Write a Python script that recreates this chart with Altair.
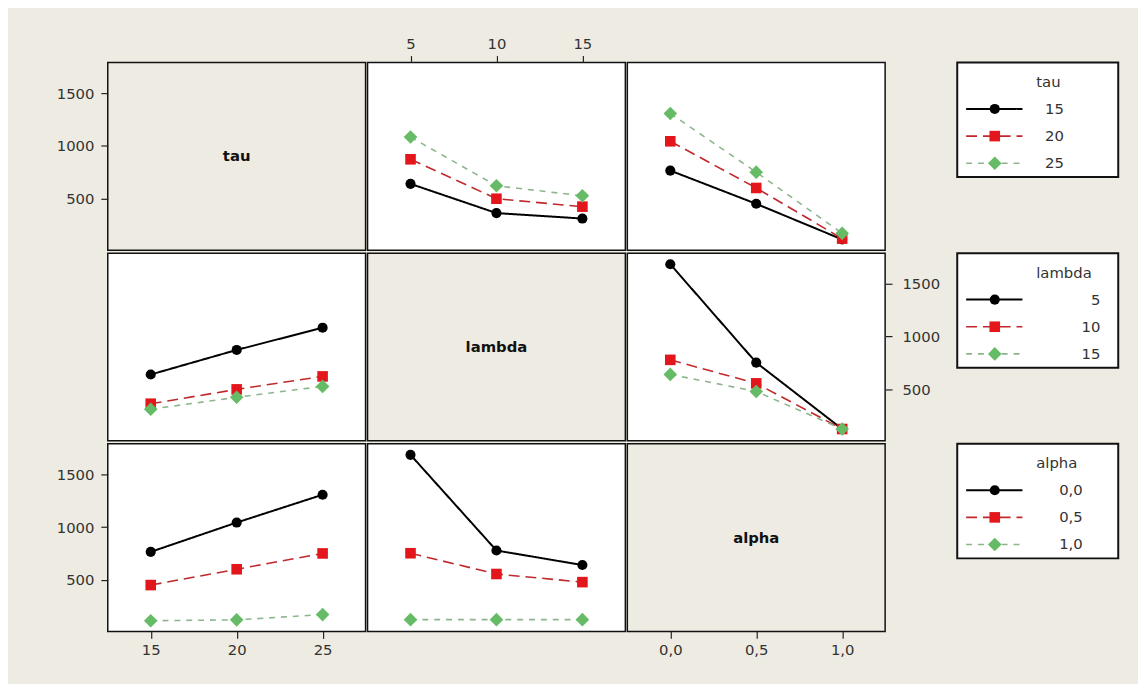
import altair as alt
import pandas as pd

# ---- data ----
factor_names = ["tau", "lambda", "alpha"]
tau_levels = [15, 20, 25]
lambda_levels = [5, 10, 15]
alpha_levels = [0.0, 0.5, 1.0]
tau_labels = ["15", "20", "25"]
lambda_labels = ["5", "10", "15"]
alpha_labels = ["0,0", "0,5", "1,0"]

# mean response; rows = first factor levels, columns = second factor levels
tau_lambda = [[639, 362, 310], [872, 498, 423], [1083, 621, 526]]
tau_alpha = [[765, 450, 112], [1043, 600, 120], [1307, 750, 170]]
lambda_alpha = [[1685, 752, 122], [778, 555, 122], [640, 478, 122]]

y_ticks = [500, 1000, 1500]
y_domain = [10, 1790]

# ---- styling ----
BG = "#EEEBE2"
FONT = "DejaVu Sans"
W, H = 261, 190
TICK_FS = 15
LINE_COLORS = ["#000000", "#C0282C", "#8DB58D"]
FILL_COLORS = ["#000000", "#E3161B", "#66BB66"]
SHAPES = ["circle", "square", "diamond"]
SIZES = [105, 115, 190]
LEG_SIZES = [115, 125, 200]
DASHES = [[1, 0], [11, 6], [6, 6]]
LINE_WIDTHS = [2, 1.6, 1.6]

levels = {"tau": tau_levels, "lambda": lambda_levels, "alpha": alpha_levels}
labels = {"tau": tau_labels, "lambda": lambda_labels, "alpha": alpha_labels}
tables = {("tau", "lambda"): tau_lambda, ("tau", "alpha"): tau_alpha,
          ("lambda", "alpha"): lambda_alpha}
k_dom = ["0", "1", "2"]


def mean(a, ia, b, ib):
    if (a, b) in tables:
        return tables[(a, b)][ia][ib]
    return tables[(b, a)][ib][ia]


def xdomain(f):
    lv = levels[f]
    span = lv[-1] - lv[0]
    return [lv[0] - 0.25 * span, lv[-1] + 0.25 * span]


def x_axis(f, orient):
    lv = levels[f]
    expr = " : ".join(
        [f"datum.value == {v} ? '{l}'" for v, l in zip(lv, labels[f])]) + " : ''"
    return alt.Axis(orient=orient, values=lv, labelExpr=expr, title=None,
                    grid=False, domain=False, tickSize=7, tickColor="#222",
                    tickWidth=1.2, labelPadding=4, labelFont=FONT,
                    labelFontSize=TICK_FS, labelColor="#333")


def y_axis(orient):
    return alt.Axis(orient=orient, values=y_ticks, format="d", title=None, grid=False,
                    domain=False, tickSize=7, tickColor="#222", tickWidth=1.2,
                    labelPadding=7 if orient == "left" else 10, labelFont=FONT,
                    labelFontSize=TICK_FS, labelColor="#333")


def series_enc(sizes):
    return dict(
        fill=alt.Fill("k:N", scale=alt.Scale(domain=k_dom, range=FILL_COLORS), legend=None),
        shape=alt.Shape("k:N", scale=alt.Scale(domain=k_dom, range=SHAPES), legend=None),
        size=alt.Size("k:N", scale=alt.Scale(type="ordinal", domain=k_dom, range=sizes),
                      legend=None),
    )


def line_enc():
    return dict(
        stroke=alt.Stroke("k:N", scale=alt.Scale(domain=k_dom, range=LINE_COLORS), legend=None),
        strokeDash=alt.StrokeDash("k:N", scale=alt.Scale(domain=k_dom, range=DASHES), legend=None),
        strokeWidth=alt.StrokeWidth("k:N", scale=alt.Scale(type="ordinal", domain=k_dom,
                                                           range=LINE_WIDTHS), legend=None),
    )


def panel(row_f, col_f, xaxis=None, yaxis=None):
    rows = []
    for ti in range(3):
        for xi, xv in enumerate(levels[col_f]):
            rows.append({"x": xv, "k": str(ti), "y": mean(row_f, ti, col_f, xi)})
    df = pd.DataFrame(rows)
    x = alt.X("x:Q", scale=alt.Scale(domain=xdomain(col_f), nice=False, zero=False),
              axis=x_axis(col_f, xaxis) if xaxis else None)
    y = alt.Y("y:Q", scale=alt.Scale(domain=y_domain, nice=False, zero=False),
              axis=y_axis(yaxis) if yaxis else None)
    base = alt.Chart(df)
    lines = base.mark_line().encode(x=x, y=y, detail="k:N", **line_enc())
    pts = base.mark_point(filled=True, opacity=1).encode(x=x, y=y, **series_enc(SIZES))
    return alt.layer(lines, pts).properties(
        width=W, height=H,
        view=alt.ViewBackground(fill="white", stroke="#111", strokeWidth=1.5))


def diag(name, xaxis_factor=None, yaxis=None):
    # the label sits in the middle of the panel; helper values only carry the axes
    xmid = sum(xdomain(xaxis_factor)) / 2 if xaxis_factor else 0.0
    ymid = sum(y_domain) / 2
    df = pd.DataFrame({"name": [name], "x": [xmid], "y": [ymid]})
    label = alt.Chart(df).mark_text(
        font=FONT, fontSize=15, fontWeight="bold", color="#111"
    ).encode(text="name:N", x=alt.value(W / 2), y=alt.value(H / 2))
    layers = [label]
    if xaxis_factor or yaxis:
        enc = {}
        if xaxis_factor:
            enc["x"] = alt.X("x:Q", scale=alt.Scale(domain=xdomain(xaxis_factor),
                                                    nice=False, zero=False),
                             axis=x_axis(xaxis_factor, "bottom"))
        if yaxis:
            enc["y"] = alt.Y("y:Q", scale=alt.Scale(domain=y_domain, nice=False, zero=False),
                             axis=y_axis(yaxis))
        helper = alt.Chart(df).mark_point(opacity=0, size=1).encode(**enc)
        layers = [helper, label]
    return alt.layer(*layers).properties(
        width=W, height=H,
        view=alt.ViewBackground(fill=BG, stroke="#111", strokeWidth=1.5))


LW, LH = 163, 116


def legend(f, margin, right_edge):
    df = pd.DataFrame({"k": k_dom, "lab": labels[f]})
    base = alt.Chart(df)
    yk = alt.Y("k:N", scale=alt.Scale(type="point", domain=k_dom, range=[47, 102], padding=0),
               axis=None)
    one = alt.Chart(pd.DataFrame({"t": [f]}))
    box = one.mark_rect(fill="white", stroke="#111", strokeWidth=2).encode(
        x=alt.value(margin), x2=alt.value(margin + LW), y=alt.value(0), y2=alt.value(LH))
    title = one.mark_text(align="left", baseline="middle", font=FONT, fontSize=15,
                          color="#333").encode(text="t:N", x=alt.value(margin + 80),
                                               y=alt.value(20))
    rules = base.mark_rule().encode(
        x=alt.value(margin + 9), x2=alt.value(margin + 66), y=yk, **line_enc())
    pts = base.mark_point(filled=True, opacity=1).encode(
        x=alt.value(margin + 38), y=yk, **series_enc(LEG_SIZES))
    texts = base.mark_text(align="right", baseline="middle", font=FONT, fontSize=15,
                           color="#333").encode(text="lab:N",
                                                x=alt.value(margin + right_edge), y=yk)
    return alt.layer(box, title, rules, pts, texts).properties(
        width=margin + LW, height=LH,
        view=alt.ViewBackground(fill="transparent", stroke="transparent"))


row1 = alt.hconcat(
    diag("tau", yaxis="left"),
    panel("tau", "lambda", xaxis="top"),
    panel("tau", "alpha"),
    legend("tau", 71, 108),
    spacing=0,
).resolve_scale(x="independent", y="independent")

row2 = alt.hconcat(
    panel("lambda", "tau"),
    diag("lambda"),
    panel("lambda", "alpha", yaxis="right"),
    legend("lambda", 16, 145),
    spacing=0,
).resolve_scale(x="independent", y="independent")

row3 = alt.hconcat(
    panel("alpha", "tau", xaxis="bottom", yaxis="left"),
    panel("alpha", "lambda"),
    diag("alpha", xaxis_factor="alpha"),
    legend("alpha", 71, 127),
    spacing=0,
).resolve_scale(x="independent", y="independent")

chart = alt.vconcat(row1, row2, row3, spacing=0).resolve_scale(
    x="independent", y="independent"
).properties(
    background=BG,
    padding={"left": 48, "top": 24, "right": 18, "bottom": 22},
).configure_view(strokeWidth=1.5)

chart.save("out.html", embed_options={"renderer": "svg", "actions": False})
